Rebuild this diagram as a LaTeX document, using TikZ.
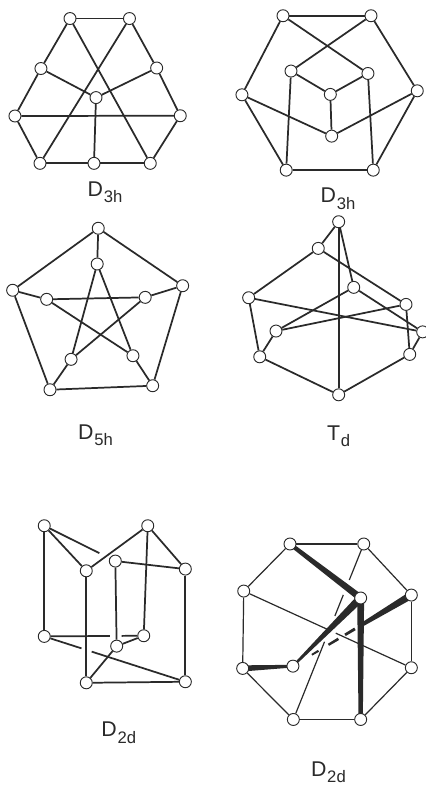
\documentclass[tikz,border=0pt]{standalone}
\usepackage{fontspec}
\setmainfont{Liberation Sans}
\usepackage{tikz}
\usetikzlibrary{positioning, calc, backgrounds}
\definecolor{inkgray}{RGB}{42, 42, 42}
\tikzset{
  vertexnode/.style={circle, draw=inkgray, fill=white, line width=0.7pt, minimum size=9pt, inner sep=0pt},
  edgeline/.style={draw=inkgray, line width=1.3pt},
  thinline/.style={draw=inkgray, line width=0.9pt},
  grouplabel/.style={font=\fontsize{16}{18}\selectfont, text=inkgray, inner sep=0pt}
}
\newcommand{\symlabel}[2]{#1\raisebox{-4.8pt}{\fontsize{12.5}{13}\selectfont\kern0.6pt #2}}
\newcommand{\taperedge}[4]{\fill[inkgray] ($(#1)!#3!90:(#2)$) -- ($(#1)!#3!-90:(#2)$) -- ($(#2)!#4!90:(#1)$) -- ($(#2)!#4!-90:(#1)$) -- cycle;}

\begin{document}
\begin{tikzpicture}[on grid]
    \useasboundingbox (0,0) rectangle (318.75pt,-588.75pt);

    \node[vertexnode] (g1a) at (52.5pt,-13.9pt) {};
    \node[vertexnode] (g1b) [right=44.6pt of g1a] {};
    \node[vertexnode] (g1c) [below left=37.5pt and 21.8pt of g1a] {};
    \node[vertexnode] (g1d) [below right=37.1pt and 20.4pt of g1b] {};
    \node[vertexnode] (g1e) [below right=21.8pt and 41.3pt of g1c] {};
    \node[vertexnode] (g1f) [below left=35.6pt and 19.5pt of g1c] {};
    \node[vertexnode] (g1g) [below right=35.8pt and 17.7pt of g1d] {};
    \node[vertexnode] (g1h) [below right=35.5pt and 18.8pt of g1f] {};
    \node[vertexnode] (g1i) [right=40.5pt of g1h] {};
    \node[vertexnode] (g1j) [right=42.2pt of g1i] {};
    \node[grouplabel] (lab1) [below right=21.8pt and 8.3pt of g1i] {\symlabel{D}{3h}};

    \draw[edgeline] (g1a) -- (g1b);
    \draw[edgeline] (g1a) -- (g1c);
    \draw[edgeline] (g1c) -- (g1f);
    \draw[edgeline] (g1f) -- (g1h);
    \draw[edgeline] (g1h) -- (g1i);
    \draw[edgeline] (g1i) -- (g1j);
    \draw[edgeline] (g1j) -- (g1g);
    \draw[edgeline] (g1g) -- (g1d);
    \draw[edgeline] (g1d) -- (g1b);
    \draw[edgeline] (g1a) -- (g1j);
    \draw[edgeline] (g1b) -- (g1h);
    \draw[edgeline] (g1c) -- (g1e);
    \draw[edgeline] (g1d) -- (g1e);
    \draw[edgeline] (g1e) -- (g1i);
    \draw[edgeline] (g1f) -- (g1g);

    \node[vertexnode] (g2a) at (212.25pt,-11.8pt) {};
    \node[vertexnode] (g2b) [right=66pt of g2a] {};
    \node[vertexnode] (g2c) [below left=59.3pt and 30.8pt of g2a] {};
    \node[vertexnode] (g2d) [below right=56.3pt and 34.7pt of g2b] {};
    \node[vertexnode] (g2e) [below right=41.5pt and 6pt of g2a] {};
    \node[vertexnode] (g2f) [below left=43.3pt and 2.3pt of g2b] {};
    \node[vertexnode] (g2g) [below right=17.5pt and 29.5pt of g2e] {};
    \node[vertexnode] (g2h) [below right=31.3pt and 1pt of g2g] {};
    \node[vertexnode] (g2i) [below right=56.5pt and 33.2pt of g2c] {};
    \node[vertexnode] (g2j) [right=65.3pt of g2i] {};
    \node[grouplabel] (lab2) [below right=46.9pt and 4.7pt of g2h] {\symlabel{D}{3h}};

    \draw[edgeline] (g2a) -- (g2b);
    \draw[edgeline] (g2a) -- (g2c);
    \draw[edgeline] (g2c) -- (g2i);
    \draw[edgeline] (g2i) -- (g2j);
    \draw[edgeline] (g2j) -- (g2d);
    \draw[edgeline] (g2d) -- (g2b);
    \draw[edgeline] (g2a) -- (g2f);
    \draw[edgeline] (g2b) -- (g2e);
    \draw[edgeline] (g2e) -- (g2g);
    \draw[edgeline] (g2f) -- (g2g);
    \draw[edgeline] (g2g) -- (g2h);
    \draw[edgeline] (g2c) -- (g2h);
    \draw[edgeline] (g2d) -- (g2h);
    \draw[edgeline] (g2e) -- (g2i);
    \draw[edgeline] (g2f) -- (g2j);

    \node[vertexnode] (g3a) at (73.7pt,-171.2pt) {};
    \node[vertexnode] (g3b) [below left=26.8pt and 0.8pt of g3a] {};
    \node[vertexnode] (g3c) [below left=46.5pt and 64.2pt of g3a] {};
    \node[vertexnode] (g3d) [below right=43.1pt and 63.3pt of g3a] {};
    \node[vertexnode] (g3e) [below right=6.8pt and 25.5pt of g3c] {};
    \node[vertexnode] (g3f) [below left=8.7pt and 28.1pt of g3d] {};
    \node[vertexnode] (g3g) [below right=74.6pt and 28pt of g3c] {};
    \node[vertexnode] (g3h) [below left=75pt and 22.5pt of g3d] {};
    \node[vertexnode] (g3i) [above right=22.8pt and 15.8pt of g3g] {};
    \node[vertexnode] (g3j) [above left=22.5pt and 14.8pt of g3h] {};
    \node[grouplabel] (lab3) [below right=34pt and 34.1pt of g3g] {\symlabel{D}{5h}};

    \draw[edgeline] (g3a) -- (g3c);
    \draw[edgeline] (g3a) -- (g3d);
    \draw[edgeline] (g3a) -- (g3b);
    \draw[edgeline] (g3c) -- (g3g);
    \draw[edgeline] (g3g) -- (g3h);
    \draw[edgeline] (g3h) -- (g3d);
    \draw[edgeline] (g3c) -- (g3e);
    \draw[edgeline] (g3d) -- (g3f);
    \draw[edgeline] (g3e) -- (g3f);
    \draw[edgeline] (g3g) -- (g3i);
    \draw[edgeline] (g3h) -- (g3j);
    \draw[edgeline] (g3b) -- (g3i);
    \draw[edgeline] (g3b) -- (g3j);
    \draw[edgeline] (g3e) -- (g3j);
    \draw[edgeline] (g3f) -- (g3i);

    \node[vertexnode] (g4a) at (254pt,-166.3pt) {};
    \node[vertexnode] (g4b) [below left=20pt and 15.3pt of g4a] {};
    \node[vertexnode] (g4c) [below left=37pt and 52.2pt of g4b] {};
    \node[vertexnode] (g4d) [below right=49.2pt and 11.3pt of g4a] {};
    \node[vertexnode] (g4e) [below right=42pt and 65.8pt of g4b] {};
    \node[vertexnode] (g4f) [below right=20.6pt and 12.5pt of g4e] {};
    \node[vertexnode] (g4g) [below right=25pt and 20.5pt of g4c] {};
    \node[vertexnode] (g4h) [below right=44.3pt and 8.3pt of g4c] {};
    \node[vertexnode] (g4i) [below right=37.5pt and 2.8pt of g4e] {};
    \node[vertexnode] (g4j) [below=129.8pt of g4a] {};
    \node[grouplabel] (lab4) [below=31pt of g4j] {\symlabel{T}{d}};

    \draw[edgeline] (g4a) -- (g4b);
    \draw[edgeline] (g4a) -- (g4d);
    \draw[edgeline] (g4a) -- (g4j);
    \draw[edgeline] (g4b) -- (g4c);
    \draw[edgeline] (g4b) -- (g4e);
    \draw[edgeline] (g4c) -- (g4h);
    \draw[edgeline] (g4c) -- (g4f);
    \draw[edgeline] (g4d) -- (g4g);
    \draw[edgeline] (g4d) -- (g4f);
    \draw[edgeline] (g4e) -- (g4g);
    \draw[edgeline] (g4e) -- (g4i);
    \draw[edgeline] (g4f) -- (g4i);
    \draw[edgeline] (g4g) -- (g4h);
    \draw[edgeline] (g4h) -- (g4j);
    \draw[edgeline] (g4i) -- (g4j);

    \node[vertexnode] (g5a) at (33.2pt,-394.3pt) {};
    \node[vertexnode] (g5b) [right=77.6pt of g5a] {};
    \node[vertexnode] (g5c) [below right=33.8pt and 31.5pt of g5a] {};
    \node[vertexnode] (g5d) [below left=26.5pt and 24.3pt of g5b] {};
    \node[vertexnode] (g5e) [below right=32.5pt and 28.2pt of g5b] {};
    \node[vertexnode] (g5f) [below=83pt of g5a] {};
    \node[vertexnode] (g5g) [below left=82.5pt and 3pt of g5b] {};
    \node[vertexnode] (g5h) [below right=63.8pt and 1pt of g5d] {};
    \node[vertexnode] (g5i) [below=84pt of g5c] {};
    \node[vertexnode] (g5j) [below=84.5pt of g5e] {};
    \node[grouplabel] (lab5) [below right=37.4pt and 24.4pt of g5i] {\symlabel{D}{2d}};

    \coordinate (g5p1) at ($(g5a)!0.775!(g5d)$);
    \coordinate (g5p2) at ($(g5a)!0.925!(g5d)$);
    \coordinate (g5q1) at ($(g5f)!0.66!(g5g)$);
    \coordinate (g5q2) at ($(g5f)!0.778!(g5g)$);
    \coordinate (g5r1) at ($(g5f)!0.264!(g5j)$);
    \coordinate (g5r2) at ($(g5f)!0.336!(g5j)$);

    \draw[edgeline] (g5a) -- (g5f);
    \draw[edgeline] (g5a) -- (g5c);
    \draw[edgeline] (g5a) -- (g5p1);
    \draw[edgeline] (g5p2) -- (g5d);
    \draw[edgeline] (g5b) -- (g5c);
    \draw[edgeline] (g5b) -- (g5e);
    \draw[edgeline] (g5b) -- (g5g);
    \draw[edgeline] (g5d) -- (g5e);
    \draw[edgeline] (g5d) -- (g5h);
    \draw[edgeline] (g5c) -- (g5i);
    \draw[edgeline] (g5e) -- (g5j);
    \draw[edgeline] (g5f) -- (g5q1);
    \draw[edgeline] (g5q2) -- (g5g);
    \draw[edgeline] (g5g) -- (g5h);
    \draw[edgeline] (g5h) -- (g5i);
    \draw[edgeline] (g5i) -- (g5j);
    \draw[edgeline] (g5f) -- (g5r1);
    \draw[edgeline] (g5r2) -- (g5j);

    \node[vertexnode] (g6a) at (217.5pt,-408pt) {};
    \node[vertexnode] (g6b) [right=55.3pt of g6a] {};
    \node[vertexnode] (g6c) [below left=35.3pt and 34.7pt of g6a] {};
    \node[vertexnode] (g6d) [below left=40.5pt and 2.3pt of g6b] {};
    \node[vertexnode] (g6e) [below right=38.3pt and 35.7pt of g6b] {};
    \node[vertexnode] (g6f) [below left=58pt and 0.8pt of g6c] {};
    \node[vertexnode] (g6g) [above right=1.7pt and 37.7pt of g6f] {};
    \node[vertexnode] (g6h) [below=54.5pt of g6e] {};
    \node[vertexnode] (g6i) [below right=38.3pt and 38pt of g6f] {};
    \node[vertexnode] (g6j) [right=50.5pt of g6i] {};
    \node[grouplabel] (lab6) [below left=39.6pt and 24.2pt of g6j] {\symlabel{D}{2d}};

    \coordinate (g6p1) at ($(g6c)!0.495!(g6h)$);
    \coordinate (g6p2) at ($(g6c)!0.549!(g6h)$);
    \coordinate (g6q1) at ($(g6b)!0.205!(g6i)$);
    \coordinate (g6q2) at ($(g6b)!0.29!(g6i)$);
    \coordinate (g6q3) at ($(g6b)!0.41!(g6i)$);
    \coordinate (g6q4) at ($(g6b)!0.557!(g6i)$);
    \coordinate (g6r1) at ($(g6e)!0.406!(g6g)$);
    \coordinate (g6r2) at ($(g6e)!0.476!(g6g)$);
    \coordinate (g6r3) at ($(g6e)!0.56!(g6g)$);
    \coordinate (g6r4) at ($(g6e)!0.616!(g6g)$);
    \coordinate (g6r5) at ($(g6e)!0.70!(g6g)$);
    \coordinate (g6r6) at ($(g6e)!0.784!(g6g)$);
    \coordinate (g6r7) at ($(g6e)!0.84!(g6g)$);

    \draw[thinline] (g6a) -- (g6b);
    \draw[thinline] (g6a) -- (g6c);
    \draw[thinline] (g6c) -- (g6f);
    \draw[thinline] (g6f) -- (g6i);
    \draw[thinline] (g6i) -- (g6j);
    \draw[thinline] (g6j) -- (g6h);
    \draw[thinline] (g6h) -- (g6e);
    \draw[thinline] (g6e) -- (g6b);
    \draw[thinline] (g6c) -- (g6p1);
    \draw[thinline] (g6p2) -- (g6h);
    \draw[thinline] (g6b) -- (g6q1);
    \draw[thinline] (g6q2) -- (g6q3);
    \draw[thinline] (g6q4) -- (g6i);

    \begin{scope}[on background layer]
        \taperedge{g6a}{g6d}{1.5pt}{2.6pt}
        \taperedge{g6d}{g6g}{3pt}{0.8pt}
        \taperedge{g6d}{g6j}{2.6pt}{1.6pt}
        \taperedge{g6f}{g6g}{2.3pt}{1pt}
        \taperedge{g6e}{g6r1}{2.8pt}{1.5pt}
        \taperedge{g6r2}{g6r3}{1.1pt}{1pt}
        \taperedge{g6r4}{g6r5}{1pt}{0.9pt}
        \taperedge{g6r6}{g6r7}{0.8pt}{0.7pt}
    \end{scope}
\end{tikzpicture}
\end{document}
